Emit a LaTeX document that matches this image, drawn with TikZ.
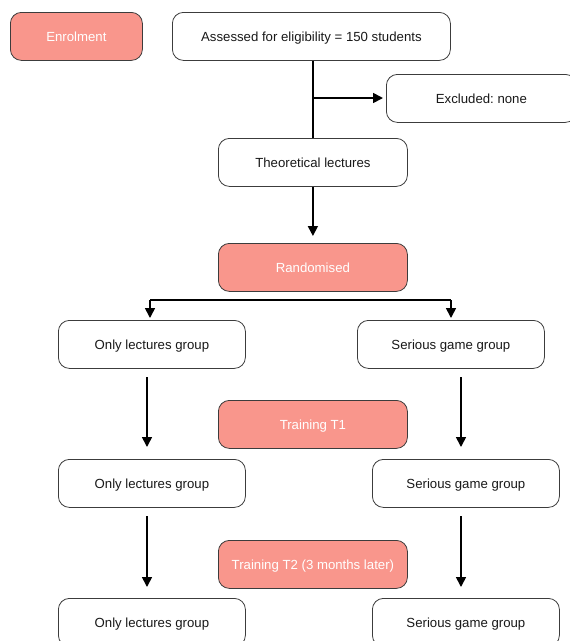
\documentclass[tikz,border=0pt]{standalone}
\usepackage{fontspec}
\setmainfont{Liberation Sans}
\usetikzlibrary{arrows.meta}
\frenchspacing
\definecolor{salmon}{RGB}{249,150,140}
\definecolor{edge}{RGB}{60,60,60}
\tikzset{
  box/.style={draw=edge, line width=0.8pt, rounded corners=11pt, fill=white, text=black!90, font=\fontsize{13.2}{15}\selectfont, anchor=north west, inner sep=0pt, text depth=0pt, yshift=0pt},
  hot/.style={box, fill=salmon, text=white},
  conn/.style={line width=1.7pt, -{Triangle[length=10pt,width=10pt]}},
  plain/.style={line width=1.7pt}
}
\begin{document}
\begin{tikzpicture}[x=1pt,y=-1pt]
\useasboundingbox (0,0) rectangle (570,641);
\clip (0,0) rectangle (570,641);
\newcommand{\bx}[7]{\node[#1, minimum width=#4pt, minimum height=#5pt] (#6) at (#2,#3) {#7};}
\bx{hot}{10}{12}{132}{48}{enrol}{Enrolment}
\bx{box}{172}{12}{278}{48}{assess}{Assessed for eligibility = 150 students}
\bx{box}{386}{74}{190}{48}{excl}{Excluded: none}
\bx{box}{218}{138}{189}{48}{theo}{Theoretical lectures}
\bx{hot}{218}{243}{189}{48}{rand}{Randomised}
\bx{box}{58}{320}{187}{48}{ol1}{Only lectures group}
\bx{box}{357}{320}{187}{48}{sg1}{Serious game group}
\bx{hot}{218}{400}{189}{48}{t1}{Training T1}
\bx{box}{58}{459}{187}{48}{ol2}{Only lectures group}
\bx{box}{372}{459}{187}{48}{sg2}{Serious game group}
\bx{hot}{218}{540}{189}{48}{t2}{Training T2 (3 months later)}
\bx{box}{58}{598}{187}{48}{ol3}{Only lectures group}
\bx{box}{372}{598}{187}{48}{sg3}{Serious game group}
% trunk
\coordinate (bj) at (313,98);
\draw[plain] (assess.south -| bj) -- (theo.north -| bj);
\draw[conn] (bj) -- ([xshift=-3pt]excl.west |- bj);
\draw[conn] (theo.south) -- ([yshift=7pt]rand.north);
% split
\coordinate (sl) at (150,300);
\coordinate (sr) at (451,300);
\draw[plain] (sl) -- (sr);
\draw[conn] (sl) -- ([yshift=2pt]ol1.north -| sl);
\draw[conn] (sr) -- ([yshift=2pt]sg1.north -| sr);
% row arrows
\coordinate (la) at (147,377);
\coordinate (ra) at (461,377);
\draw[conn] (la) -- ([yshift=12pt]ol2.north -| la);
\draw[conn] (ra) -- ([yshift=12pt]sg2.north -| ra);
\coordinate (lb) at (147,516);
\coordinate (rb) at (461,516);
\draw[conn] (lb) -- ([yshift=11pt]ol3.north -| lb);
\draw[conn] (rb) -- ([yshift=11pt]sg3.north -| rb);
\end{tikzpicture}
\end{document}
